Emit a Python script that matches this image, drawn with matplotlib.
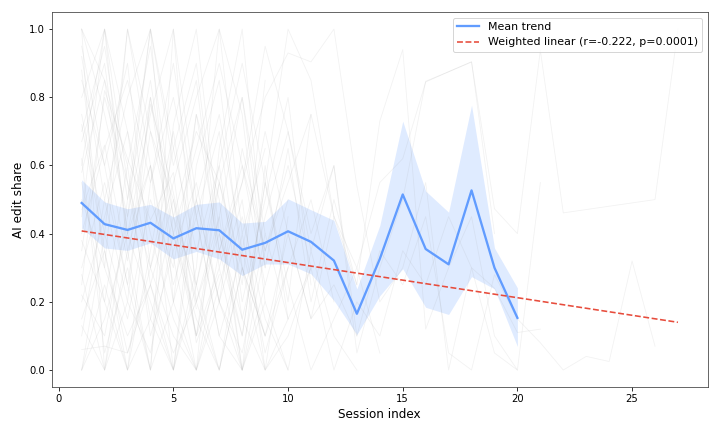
import matplotlib.pyplot as plt

# mean trend per session with its confidence band
sessions = list(range(1, 21))
mean_share = [0.490, 0.428, 0.411, 0.432, 0.386, 0.416, 0.410, 0.353, 0.373, 0.407,
              0.376, 0.321, 0.165, 0.326, 0.515, 0.355, 0.310, 0.527, 0.300, 0.153]
band_hi = [0.558, 0.493, 0.473, 0.486, 0.449, 0.486, 0.493, 0.431, 0.436, 0.502,
           0.470, 0.439, 0.238, 0.424, 0.730, 0.525, 0.463, 0.777, 0.358, 0.241]
band_lo = [0.417, 0.358, 0.351, 0.373, 0.326, 0.348, 0.326, 0.277, 0.311, 0.311,
           0.282, 0.204, 0.104, 0.218, 0.297, 0.184, 0.163, 0.274, 0.238, 0.069]

# weighted linear fit end points
fit_x = [1, 27]
fit_y = [0.408, 0.140]
fit_label = "Weighted linear (r=-0.222, p=0.0001)"

# individual user trajectories (short ones start at session 1)
users = [
    [0.60, 1.00, 0.35, 0.00, 0.72, 1.00, 0.40, 0.10, 0.55, 1.00, 0.85, 0.45],
    [1.00, 0.00, 0.50, 1.00, 0.20, 0.00, 0.65, 1.00, 0.30],
    [0.22, 0.10, 0.45, 0.80, 0.33, 0.00, 0.25, 0.50, 0.00, 0.15],
    [0.00, 0.40, 1.00, 0.60, 0.00, 0.30, 1.00, 0.75, 0.20, 0.00, 0.35, 0.10, 0.00],
    [0.85, 0.60, 0.90, 0.30, 0.55, 0.80, 1.00, 0.40, 0.65],
    [0.45, 1.00, 0.70, 0.25, 0.00, 0.50, 0.20, 0.00, 0.35, 0.60, 0.30],
    [0.13, 0.00, 0.20, 0.05, 0.40, 0.15, 0.00, 0.30, 0.10],
    [0.72, 0.35, 0.00, 0.55, 0.90, 0.45, 0.70, 0.20, 0.50, 0.80, 0.25],
    [1.00, 0.75, 0.45, 1.00, 0.60, 0.85, 0.30, 0.55, 0.95, 0.70, 0.40, 0.60, 0.10],
    [0.30, 0.55, 0.25, 0.00, 0.20, 0.45, 0.10, 0.00, 0.25],
    [0.06, 0.07, 0.05, 0.30, 0.10, 0.00, 0.20, 0.45, 0.15, 0.00],
    [0.92, 0.50, 0.80, 1.00, 0.65, 0.35, 0.60, 0.90, 0.55, 0.20, 0.75],
    [0.55, 0.20, 0.00, 0.35, 0.70, 0.25, 0.00, 0.40, 0.05, 0.30, 0.50, 0.20],
    [0.35, 0.80, 0.55, 0.15, 0.00, 0.60, 0.85, 0.30, 0.00, 0.45],
    [0.67, 0.90, 0.40, 0.75, 1.00, 0.50, 0.20, 0.65, 0.35],
    [0.20, 0.45, 0.70, 0.40, 0.15, 0.00, 0.35, 0.10, 0.55, 0.25, 0.00, 0.15, 0.30, 0.05],
    [0.75, 0.40, 0.15, 0.50, 0.30, 0.75, 0.50, 0.00, 0.20],
    [0.00, 0.25, 0.00, 0.15, 0.45, 0.10, 0.30, 0.00],
    [0.40, 0.65, 0.85, 0.55, 0.80, 0.45, 0.10, 0.35, 0.70, 0.40, 0.15, 0.45, 0.25],
    [0.28, 0.00, 0.35, 0.60, 0.25, 0.50, 0.75, 0.35, 0.10, 0.30],
    [1.00, 0.85, 0.60, 0.95, 0.45, 0.70, 0.55, 0.80, 0.40],
    [0.50, 0.30, 0.10, 0.25, 0.05, 0.20, 0.40, 0.15, 0.00, 0.10, 0.30],
    [0.80, 1.00, 0.55, 0.30, 0.65, 0.90, 0.35, 0.60, 0.25, 0.50],
    [0.00, 0.15, 0.40, 0.20, 0.00, 0.25, 0.55, 0.30],
    [0.62, 0.05, 0.30, 0.00, 1.00, 0.20, 0.45, 0.00, 0.60, 0.15],
    [0.88, 0.30, 1.00, 0.70, 0.40, 0.10, 0.55, 0.25, 0.85],
    [0.47, 0.66, 0.32, 0.78, 0.52, 0.18],
    [0.25, 0.82, 0.62, 0.44, 0.58, 0.08, 0.28],
]

# the few users with long (sometimes gappy) histories
long_x = [
    list(range(1, 23)) + [26, 27],
    list(range(1, 27)),
    list(range(1, 22)),
    list(range(1, 22)),
    list(range(1, 21)),
    list(range(1, 20)),
]
long_y = [
    [0.70, 0.95, 0.50, 0.85, 0.40, 0.65, 0.90, 0.60, 0.35, 0.55, 0.75, 0.45,
     0.30, 0.55, 0.62, 0.845, 0.875, 0.904, 0.473, 0.40, 0.938, 0.461, 0.50, 1.00],
    [0.15, 0.35, 0.05, 0.25, 0.50, 0.20, 0.00, 0.30, 0.10, 0.40, 0.15, 0.25,
     0.10, 0.35, 0.25, 0.45, 0.05, 0.00, 0.28, 0.15, 0.08, 0.00, 0.04, 0.025, 0.32, 0.07],
    [0.95, 0.60, 0.25, 0.70, 0.50, 0.10, 0.45, 0.80, 0.30, 0.65, 0.20, 0.50,
     0.25, 0.73, 0.94, 0.12, 0.30, 0.45, 0.10, 0.00, 0.55],
    [0.38, 0.20, 0.60, 0.10, 0.35, 0.55, 0.20, 0.05, 0.40, 0.15, 0.30, 0.00,
     0.20, 0.10, 0.35, 0.25, 0.45, 0.30, 0.24, 0.11, 0.12],
    [0.58, 0.85, 0.40, 0.60, 0.20, 0.75, 0.35, 0.55, 0.80, 0.93, 0.904, 1.00,
     0.54, 0.20, 0.30, 0.55, 0.00, 0.30, 0.05, 0.00],
    [0.10, 0.50, 0.20, 0.80, 0.45, 0.25, 0.60, 0.15, 0.45, 0.70, 0.35, 0.60,
     0.05, 0.30, 0.50, 0.847, 0.875, 0.904, 0.40],
]

fig, ax = plt.subplots(figsize=(10, 6), dpi=72)

for u in users:
    ax.plot(range(1, len(u) + 1), u, color='#999999', alpha=0.13, lw=0.8)
for xs, ys in zip(long_x, long_y):
    ax.plot(xs, ys, color='#999999', alpha=0.13, lw=0.8)

ax.fill_between(sessions, band_lo, band_hi, color='#619CFF', alpha=0.2, lw=0)
ax.plot(sessions, mean_share, color='#619CFF', lw=2.3, label='Mean trend')
ax.plot(fit_x, fit_y, color='#E74C3C', lw=1.6, ls='--', label=fit_label)

ax.set_xlabel("Session index", fontsize=12)
ax.set_ylabel("AI edit share", fontsize=12)
ax.tick_params(labelsize=10)
for s in ax.spines.values():
    s.set_color('#444444')
ax.legend(loc='upper right', fontsize=11)

plt.subplots_adjust(left=0.072, right=0.983, top=0.972, bottom=0.104)
fig.savefig('out.png', dpi=72)
